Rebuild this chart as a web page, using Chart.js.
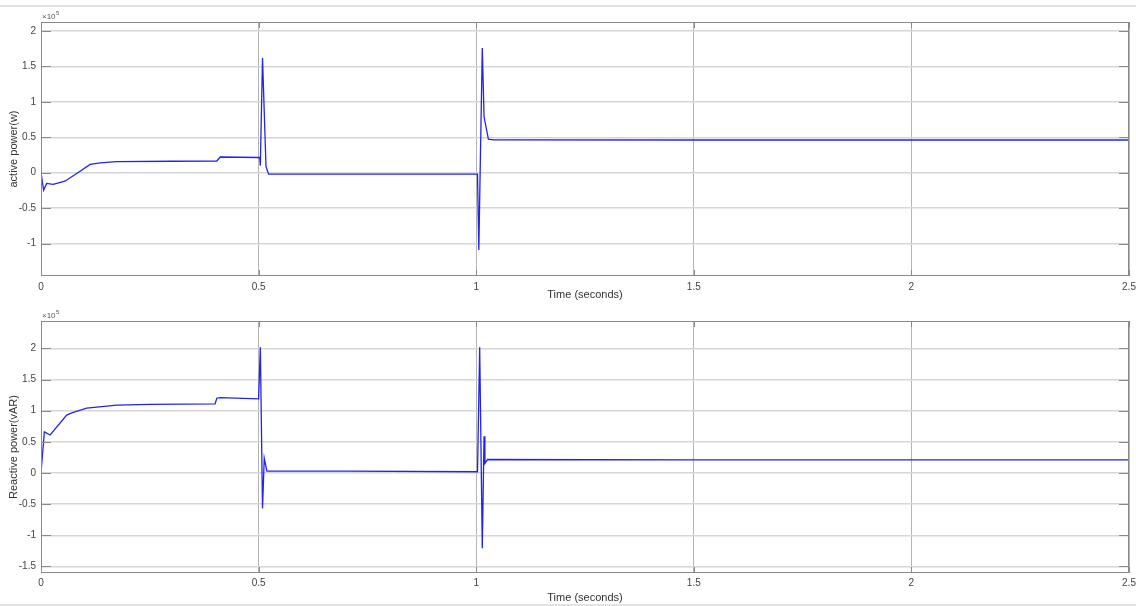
<!DOCTYPE html>
<html lang="en">
  <head>
    <meta charset="UTF-8" />
    <title>Active and Reactive Power</title>
  </head>
  <style>
    * {
      margin: 0;
      padding: 0;
      font-family: "Liberation Sans", Arial, sans-serif;
    }
    body {
      width: 1136px;
      height: 606px;
      background: white;
      position: relative;
      overflow: hidden;
    }
    .bar {
      position: absolute;
      left: 0;
      width: 1136px;
      height: 2px;
      background: #e3e3e3;
    }
    .plot {
      position: absolute;
      left: 0;
      width: 1136px;
      height: 303px;
    }
  </style>
  <body>
    <div class="bar" style="top: 5px"></div>
    <div class="bar" style="top: 604px"></div>
    <div class="plot" style="top: 0"><canvas id="activeChart"></canvas></div>
    <div class="plot" style="top: 303px"><canvas id="reactiveChart"></canvas></div>

    <script src="https://cdn.jsdelivr.net/npm/chart.js"></script>

    <script>
      // data block (power values in units of 1e5)
      const timeP = [0, 0.006, 0.013, 0.028, 0.055, 0.082, 0.113, 0.136, 0.174, 0.3, 0.404, 0.412, 0.5, 0.5025, 0.504, 0.509, 0.517, 0.523, 0.7, 1.003, 1.006, 1.014, 1.018, 1.028, 1.04, 1.5, 2.0, 2.5];
      const activeP = [0, -0.245, -0.15, -0.165, -0.12, -0.01, 0.118, 0.14, 0.156, 0.162, 0.166, 0.222, 0.215, 0.215, 0.1, 1.62, 0.085, -0.02, -0.02, -0.02, -1.09, 1.76, 0.79, 0.475, 0.463, 0.462, 0.462, 0.462];

      const timeQ = [0, 0.0077, 0.021, 0.059, 0.071, 0.105, 0.174, 0.251, 0.4, 0.404, 0.412, 0.5, 0.504, 0.509, 0.513, 0.519, 0.7, 1.003, 1.008, 1.014, 1.018, 1.02, 1.026, 1.5, 2.0, 2.5];
      const reactiveQ = [0, 0.66, 0.61, 0.93, 0.966, 1.04, 1.09, 1.1, 1.11, 1.2, 1.21, 1.19, 2.02, -0.57, 0.235, 0.03, 0.03, 0.02, 2.02, -1.21, 0.59, 0.155, 0.216, 0.21, 0.21, 0.21];

      const xTicks = [0, 0.5, 1, 1.5, 2, 2.5];
      const yTicksP = [-1, -0.5, 0, 0.5, 1, 1.5, 2];
      const yTicksQ = [-1.5, -1, -0.5, 0, 0.5, 1, 1.5, 2];

      // matlab style box, inner ticks and x10^5 label
      const matlabBox = {
        id: "matlabBox",
        afterDraw: function (chart) {
          const { ctx, chartArea: { top, right, bottom, left } } = chart;
          const x = chart.scales.x;
          const y = chart.scales.y;
          ctx.save();
          ctx.strokeStyle = "#8a8a8a";
          ctx.lineWidth = 1;
          ctx.strokeRect(left + 0.5, top + 0.5, right - left - 1, bottom - top - 1);
          ctx.beginPath();
          y.ticks.forEach((t) => {
            const py = Math.round(y.getPixelForValue(t.value)) + 0.5;
            ctx.moveTo(left, py);
            ctx.lineTo(left + 10, py);
            ctx.moveTo(right, py);
            ctx.lineTo(right - 10, py);
          });
          x.ticks.forEach((t) => {
            const px = Math.round(x.getPixelForValue(t.value)) + 0.5;
            ctx.moveTo(px, bottom);
            ctx.lineTo(px, bottom - 6);
            ctx.moveTo(px, top);
            ctx.lineTo(px, top + 6);
          });
          ctx.stroke();

          ctx.fillStyle = "#555";
          ctx.textBaseline = "alphabetic";
          ctx.font = "8px 'Liberation Sans', Arial, sans-serif";
          ctx.fillText("\u00d710", left + 1, top - 3);
          ctx.font = "6px 'Liberation Sans', Arial, sans-serif";
          ctx.fillText("5", left + 15, top - 7);
          ctx.restore();
        }
      };

      function makeConfig(times, values, yTicks, yMin, yMax, padTop, xHeight, tickPad, yLabel) {
        return {
          type: "line",
          data: {
            datasets: [
              {
                data: times.map((t, i) => ({ x: t, y: values[i] })),
                borderColor: "rgb(35, 35, 235)",
                borderWidth: 1.3,
                pointRadius: 0,
                tension: 0,
                fill: false
              }
            ]
          },
          options: {
            responsive: false,
            animation: false,
            layout: { padding: { top: padTop, right: 0, bottom: 0, left: 0 } },
            plugins: { legend: { display: false }, tooltip: { enabled: false } },
            scales: {
              x: {
                type: "linear",
                min: 0,
                max: 2.5,
                afterBuildTicks: (scale) => {
                  scale.ticks = xTicks.map((v) => ({ value: v }));
                },
                afterFit: (scale) => {
                  scale.height = xHeight;
                  scale.paddingRight = 7;
                },
                grid: { color: "#b4b4b4", lineWidth: 1, drawTicks: false },
                border: { display: false },
                ticks: {
                  padding: tickPad,
                  maxRotation: 0,
                  color: "#444",
                  font: { size: 10 },
                  callback: (v) => String(v)
                },
                title: {
                  display: true,
                  text: "Time (seconds)",
                  color: "#333",
                  font: { size: 11 },
                  padding: { top: 0, bottom: 1 }
                }
              },
              y: {
                min: yMin,
                max: yMax,
                afterBuildTicks: (scale) => {
                  scale.ticks = yTicks.map((v) => ({ value: v }));
                },
                afterFit: (scale) => {
                  scale.width = 41;
                },
                grid: { color: "#d6d6d6", lineWidth: 1.5, drawTicks: false },
                border: { display: false },
                ticks: {
                  padding: 5,
                  color: "#444",
                  font: { size: 10 },
                  callback: (v) => String(v)
                },
                title: {
                  display: true,
                  text: yLabel,
                  color: "#333",
                  font: { size: 11 },
                  padding: { top: 7, bottom: 0 }
                }
              }
            }
          },
          plugins: [matlabBox]
        };
      }

      function setup(id) {
        const c = document.getElementById(id);
        c.width = 1136;
        c.height = 303;
        return c;
      }

      const activeChart = new Chart(
        setup("activeChart"),
        makeConfig(timeP, activeP, yTicksP, -1.457, 2.127, 22, 27, 5, "active power(w)")
      );
      const reactiveChart = new Chart(
        setup("reactiveChart"),
        makeConfig(timeQ, reactiveQ, yTicksQ, -1.606, 2.44, 18, 33, 4, "Reactive power(vAR)")
      );
    </script>
  </body>
</html>
